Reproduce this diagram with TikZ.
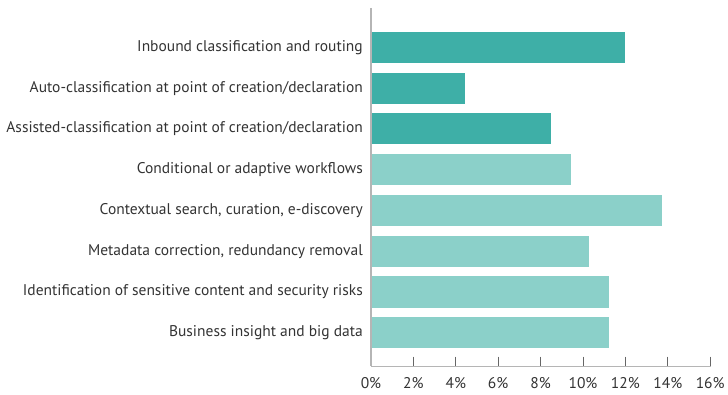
\documentclass[tikz,border=0pt]{standalone}
\usepackage{fontspec}
\setmainfont{PT Sans}
\definecolor{darkteal}{HTML}{3EAFA7}
\definecolor{lightteal}{HTML}{8BD0C9}
\definecolor{axisgray}{HTML}{B5B5B5}
\definecolor{tickgray}{HTML}{666666}
\definecolor{labelgray}{HTML}{333333}
\begin{document}
\begin{tikzpicture}[x=1pt,y=-1pt,
  barlabel/.style={anchor=east,text=labelgray,font=\fontsize{15.5}{16}\selectfont,inner sep=0pt},
  ticklabel/.style={anchor=center,text=labelgray,font=\fontsize{15.5}{16}\selectfont,inner sep=0pt},
  darkbar/.style={fill=darkteal,draw=none},
  lightbar/.style={fill=lightteal,draw=none}]
\useasboundingbox (0,0) rectangle (728,395);
% bars
\def\xz{371}\def\unit{21.2}
\foreach \v/\s/\t [count=\i from 0] in {
  12/darkbar/Inbound classification and routing,
  4.43/darkbar/Auto-classification at point of creation\slash declaration,
  8.5/darkbar/Assisted-classification at point of creation\slash declaration,
  9.43/lightbar/Conditional or adaptive workflows,
  13.73/lightbar/{Contextual search, curation, e-discovery},
  10.28/lightbar/{Metadata correction, redundancy removal},
  11.23/lightbar/Identification of sensitive content and security risks,
  11.23/lightbar/Business insight and big data}{
  \pgfmathsetmacro{\ytop}{32+40.75*\i}
  \pgfmathsetmacro{\xend}{\xz+\unit*\v}
  \path[\s] (\xz,\ytop) rectangle (\xend,\ytop+31) node[pos=0,coordinate] (b\i) {};
  \node[barlabel] (l\i) at (363,\ytop+15.5) {\t};
}
% axes
\coordinate (ytop) at (\xz,8);
\coordinate (origin) at (\xz,366);
\coordinate (xend) at (710.5,366);
\draw[axisgray,line width=1.2pt] (ytop) -- (origin);
\draw[axisgray,line width=1pt] (origin) -- (xend);
\foreach \k in {0,...,8}{
  \pgfmathsetmacro{\xt}{\xz+42.4*\k}
  \pgfmathtruncatemacro{\pc}{2*\k}
  \ifnum\k>0 \draw[tickgray,line width=1pt] (\xt,356.5) -- (\xt,366); \fi
  \node[ticklabel] (t\k) at (\xt,383) {\pc\%};
}
\end{tikzpicture}
\end{document}
